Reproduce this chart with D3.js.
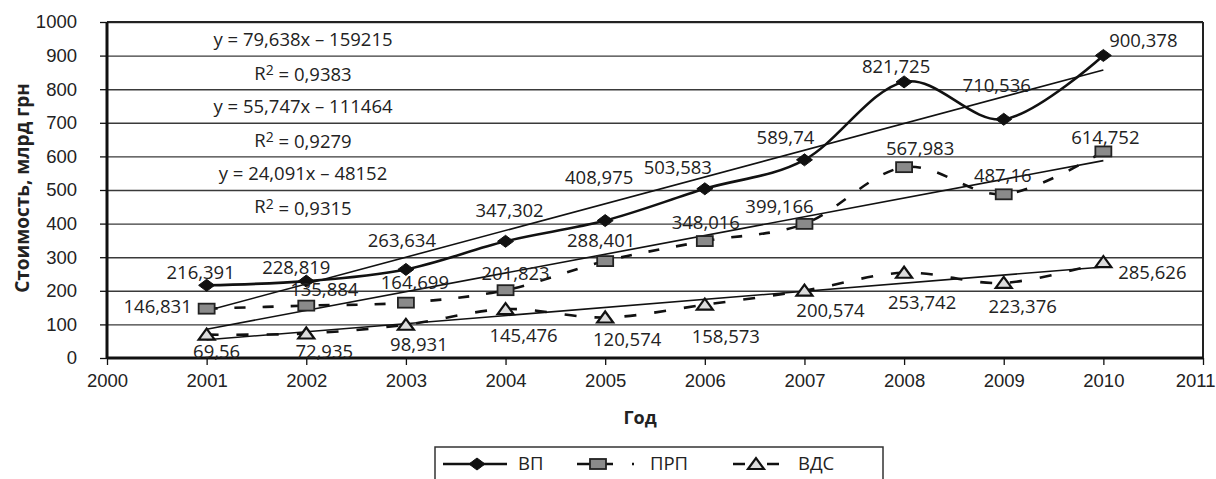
<!DOCTYPE html>
<html>
<head>
<meta charset="utf-8">
<script src="https://cdn.jsdelivr.net/npm/d3@7"></script>
<style>
  body { margin: 0; background: #fff; }
  svg { display: block; font-family: "Open Sans", sans-serif; }
  .tick text { font-size: 18.5px; fill: #222; }
  .lbl { font-size: 18.5px; fill: #222; }
</style>
</head>
<body>
<script>
// data
var years = [2001, 2002, 2003, 2004, 2005, 2006, 2007, 2008, 2009, 2010];
var vp  = [216.391, 228.819, 263.634, 347.302, 408.975, 503.583, 589.74, 821.725, 710.536, 900.378];
var prp = [146.831, 155.884, 164.699, 201.823, 288.401, 348.016, 399.166, 567.983, 487.16, 614.752];
var vds = [69.56, 72.935, 98.931, 145.476, 120.574, 158.573, 200.574, 253.742, 223.376, 285.626];
var vpLabels  = ['216,391', '228,819', '263,634', '347,302', '408,975', '503,583', '589,74', '821,725', '710,536', '900,378'];
var prpLabels = ['146,831', '135,884', '164,699', '201,823', '288,401', '348,016', '399,166', '567,983', '487,16', '614,752'];
var vdsLabels = ['69,56', '72,935', '98,931', '145,476', '120,574', '158,573', '200,574', '253,742', '223,376', '285,626'];
var seriesNames = ['ВП', 'ПРП', 'ВДС'];
var trendSlope = [79.638, 55.747, 24.091];
var trendIntercept = [-159215, -111464, -48152];
var trendText = ['y = 79,638x – 159215', '0,9383', 'y = 55,747x – 111464', '0,9279', 'y = 24,091x – 48152', '0,9315'];
var yTicks = [0, 100, 200, 300, 400, 500, 600, 700, 800, 900, 1000];
var xTicks = [2000, 2001, 2002, 2003, 2004, 2005, 2006, 2007, 2008, 2009, 2010, 2011];

// label offsets (px) from their point, as placed in the original
var vpOff  = [[-6,-13],[-10,-14],[-4,-29],[4,-31],[-6,-43],[-27,-21],[-19,-22],[-8,-15],[-7,-34],[40,-15]];
var prpOff = [[-49,-2],[18,-16],[9,-20],[10,-17],[-4,-21],[1,-19],[-25,-17],[16,-19],[-1,-19],[2,-14]];
var vdsOff = [[10,17],[18,18],[13,20],[18,26],[22,22],[21,32],[26,20],[18,30],[19,24],[49,10]];

var width = 1216, height = 479;
var x = d3.scaleLinear().domain([2000, 2011]).range([107, 1203]);
var y = d3.scaleLinear().domain([0, 1000]).range([358, 22]);

var svg = d3.select('body').append('svg')
    .attr('width', width)
    .attr('height', height);

// grid
svg.append('g')
    .attr('transform', 'translate(' + x.range()[0] + ',0)')
    .call(d3.axisLeft(y).tickValues(yTicks.slice(1)).tickSize(-(x.range()[1] - x.range()[0])).tickFormat(''))
    .call(g => g.select('.domain').remove())
    .selectAll('line').attr('stroke', '#3a3a3a').attr('stroke-width', 1.4);

// plot border top / right
svg.append('line').attr('x1', x.range()[0]).attr('x2', x.range()[1]).attr('y1', y(1000)).attr('y2', y(1000))
    .attr('stroke', '#222').attr('stroke-width', 2.2);
svg.append('line').attr('x1', x.range()[1]).attr('x2', x.range()[1]).attr('y1', y(1000)).attr('y2', y(0))
    .attr('stroke', '#222').attr('stroke-width', 2);

// axes
var axY = svg.append('g')
    .attr('transform', 'translate(' + x.range()[0] + ',0)')
    .call(d3.axisLeft(y).tickValues(yTicks).tickFormat(d3.format('d')).tickSize(7).tickPadding(23));
var axX = svg.append('g')
    .attr('transform', 'translate(0,' + y(0) + ')')
    .call(d3.axisBottom(x).tickValues(xTicks).tickFormat(d3.format('d')).tickSize(7).tickPadding(9));
[axY, axX].forEach(function (g) {
  g.select('.domain').attr('stroke', '#111').attr('stroke-width', 3);
  g.selectAll('.tick line').attr('stroke', '#111').attr('stroke-width', 1.3);
});
axY.select('.domain').attr('d', 'M0,' + y(1000) + 'V' + y(0));
axX.select('.domain').attr('d', 'M' + x.range()[0] + ',0H' + x.range()[1]);
// last year label sits against the right edge
axX.selectAll('.tick text').filter(function (d) { return d === 2011; })
    .attr('text-anchor', 'end').attr('x', 12);

// axis titles
svg.append('text')
    .attr('transform', 'translate(22,188) rotate(-90)')
    .attr('text-anchor', 'middle').attr('dy', '0.35em')
    .style('font-size', '19px').style('font-weight', 'bold').attr('fill', '#222')
    .text('Стоимость, млрд грн');
svg.append('text')
    .attr('x', 640).attr('y', 418)
    .attr('text-anchor', 'middle').attr('dy', '0.35em')
    .style('font-size', '18px').style('font-weight', 'bold').attr('fill', '#222')
    .text('Год');

// trend lines
trendSlope.forEach(function (s, i) {
  var x0 = years[0], x1 = years[years.length - 1];
  svg.append('line')
      .attr('x1', x(x0)).attr('y1', y(s * x0 + trendIntercept[i]))
      .attr('x2', x(x1)).attr('y2', y(s * x1 + trendIntercept[i]))
      .attr('stroke', '#111').attr('stroke-width', 1.6);
});

// series
var line = d3.line().curve(d3.curveCardinal)
    .x(function (d) { return x(d[0]); })
    .y(function (d) { return y(d[1]); });

function pts(vals) { return years.map(function (yr, i) { return [yr, vals[i]]; }); }

svg.append('path').datum(pts(vp)).attr('d', line)
    .attr('fill', 'none').attr('stroke', '#111').attr('stroke-width', 2.6);
svg.append('path').datum(pts(prp)).attr('d', line)
    .attr('fill', 'none').attr('stroke', '#111').attr('stroke-width', 2.6).attr('stroke-dasharray', '11,17');
svg.append('path').datum(pts(vds)).attr('d', line)
    .attr('fill', 'none').attr('stroke', '#111').attr('stroke-width', 2.6).attr('stroke-dasharray', '12,18');

// markers
function diamond(g) {
  g.append('path').attr('d', 'M-8,0L0,-6L8,0L0,6Z').attr('fill', '#111').attr('stroke', '#111').attr('stroke-width', 1);
}
function square(g) {
  g.append('rect').attr('x', -8).attr('y', -5).attr('width', 16).attr('height', 10)
      .attr('fill', '#8a8a8a').attr('stroke', '#222').attr('stroke-width', 1.8);
}
function triangle(g) {
  g.append('path').attr('d', 'M-8,5L0,-6L8,5Z')
      .attr('fill', '#dcdcdc').attr('stroke', '#111').attr('stroke-width', 2.2).attr('stroke-linejoin', 'miter');
}

var series = [
  {vals: vp, labels: vpLabels, off: vpOff, mark: diamond},
  {vals: prp, labels: prpLabels, off: prpOff, mark: square},
  {vals: vds, labels: vdsLabels, off: vdsOff, mark: triangle}
];

series.forEach(function (s) {
  var g = svg.append('g');
  g.selectAll('g.m')
      .data(pts(s.vals))
      .enter()
      .append('g')
      .attr('class', 'm')
      .attr('transform', function (d) { return 'translate(' + x(d[0]) + ',' + y(d[1]) + ')'; })
      .each(function () { s.mark(d3.select(this)); });
});

series.forEach(function (s) {
  svg.append('g').selectAll('text')
      .data(pts(s.vals))
      .enter()
      .append('text')
      .attr('class', 'lbl')
      .attr('text-anchor', 'middle')
      .attr('dy', '0.35em')
      .attr('x', function (d, i) { return x(d[0]) + s.off[i][0]; })
      .attr('y', function (d, i) { return y(d[1]) + s.off[i][1]; })
      .text(function (d, i) { return s.labels[i]; });
});

// trend equations
var eq = svg.append('g').attr('class', 'lbl');
trendText.forEach(function (t, i) {
  var tx = eq.append('text')
      .attr('x', 303).attr('y', 40 + i * 33.4)
      .attr('dy', '0.35em').attr('text-anchor', 'middle');
  if (i % 2 === 0) {
    tx.text(t);
  } else {
    tx.append('tspan').text('R');
    tx.append('tspan').attr('dy', '-0.35em').style('font-size', '14px').text('2');
    tx.append('tspan').attr('dy', '0.35em').text(' = ' + t);
  }
});

// legend
var leg = svg.append('g');
leg.append('rect').attr('x', 435).attr('y', 447).attr('width', 448).attr('height', 45)
    .attr('fill', '#fff').attr('stroke', '#333').attr('stroke-width', 1.5);
var legItems = [
  {x0: 443, x1: 507, mx: 477, tx: 518, mark: diamond, dash: null},
  {x0: 577, x1: 635, mx: 598, tx: 650, mark: square, dash: '36,19,2,20'},
  {x0: 733, x1: 780, mx: 756, tx: 798, mark: triangle, dash: '12,22'}
];
legItems.forEach(function (it, i) {
  leg.append('line').attr('x1', it.x0).attr('x2', it.x1).attr('y1', 464).attr('y2', 464)
      .attr('stroke', '#111').attr('stroke-width', 2.6)
      .attr('stroke-dasharray', it.dash);
  var m = leg.append('g').attr('transform', 'translate(' + it.mx + ',464)');
  it.mark(m);
  leg.append('text').attr('class', 'lbl').attr('x', it.tx).attr('y', 464).attr('dy', '0.35em')
      .text(seriesNames[i]);
});
</script>
</body>
</html>
